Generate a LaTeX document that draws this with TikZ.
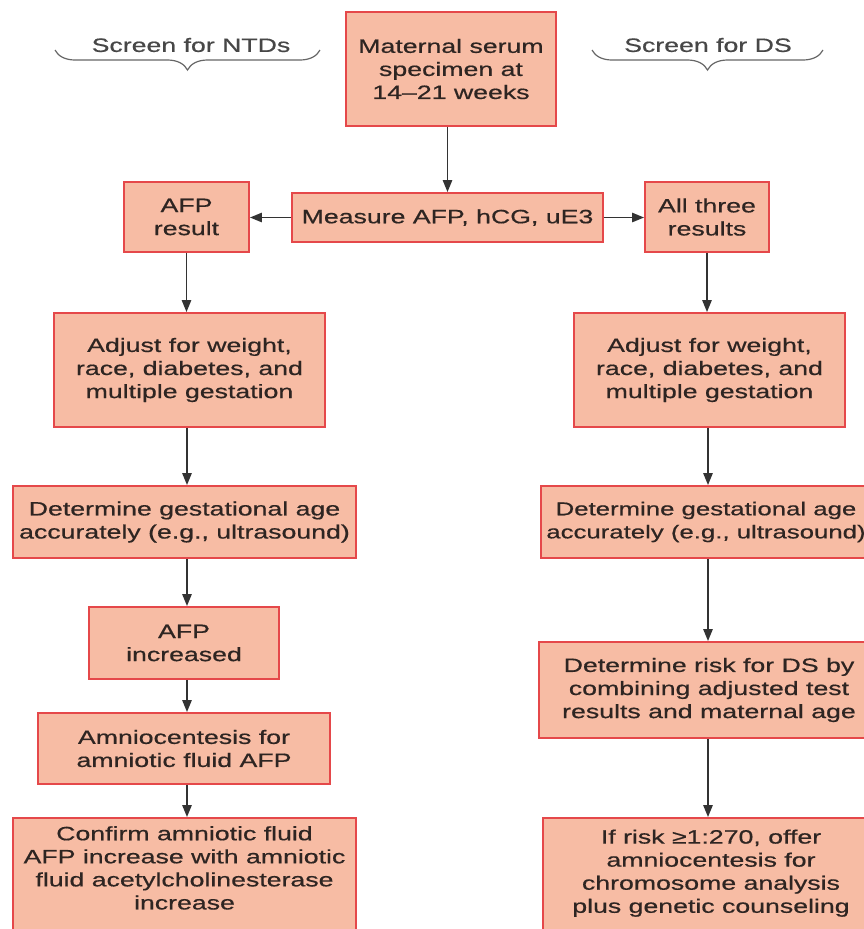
\documentclass[tikz,border=0pt]{standalone}
\usepackage{fontspec}
\setmainfont{Liberation Sans}[FakeStretch=1.38,FakeBold=0.6]
\usetikzlibrary{arrows.meta,decorations.pathreplacing}
\definecolor{salmon}{HTML}{F7BCA4}
\definecolor{boxred}{HTML}{E5484A}
\definecolor{ink}{HTML}{2E2522}
\definecolor{arrowgray}{HTML}{333333}
\tikzset{
  stepbox/.style={draw=boxred,fill=salmon,line width=1.4pt,align=center,inner sep=0pt,
    text=ink,font=\fontsize{14.5}{17.3}\selectfont},
  tag/.style={text=black!72,font=\fontsize{14.5}{17.3}\selectfont},
  flow/.style={-{Triangle[length=9pt,width=7pt]},draw=arrowgray,line width=1.3pt},
  brc/.style={decorate,decoration={brace,mirror,amplitude=15pt},draw=black!60,line width=0.9pt}
}

\begin{document}
\begin{tikzpicture}[x=0.75pt,y=-0.75pt]
\useasboundingbox (0,0) rectangle (864,929);
\clip (0,0) rectangle (864,929);
% the two screens
\node[tag] (ntd) at (191,45) {Screen for NTDs};
\node[tag] (ds) at (708,45) {Screen for DS};
\draw[brc] (55,50) -- (320,50);
\draw[brc] (592,50) -- (823,50);
\coordinate (colL) at (187,0);
\coordinate (colR) at (708,0);
% boxes
\node[stepbox,minimum width=157.5pt,minimum height=85.5pt] (top) at (451,69) {Maternal serum\\specimen at\\14--21 weeks};
\node[stepbox,minimum width=233.25pt,minimum height=36.75pt] (meas) at (447.5,217.5) {Measure AFP, hCG, uE3};
\node[stepbox,minimum width=93.75pt,minimum height=52.5pt] (afp) at (186.5,217) {AFP\\result};
\node[stepbox,minimum width=93pt,minimum height=52.5pt] (three) at (707,217) {All three\\results};
\node[stepbox,minimum width=203.25pt,minimum height=85.5pt] (adjl) at (189.5,370) {Adjust for weight,\\race, diabetes, and\\multiple gestation};
\node[stepbox,minimum width=203.25pt,minimum height=85.5pt] (adjr) at (709.5,370) {Adjust for weight,\\race, diabetes, and\\multiple gestation};
\node[stepbox,minimum width=257.25pt,minimum height=54pt] (detl) at (184.5,522) {Determine gestational age\\accurately (e.g., ultrasound)};
\node[stepbox,minimum width=247.5pt,minimum height=54pt,font=\fontsize{14}{17.3}\selectfont] (detr) at (706,522) {Determine gestational age\\accurately (e.g., ultrasound)};
\node[stepbox,minimum width=142.5pt,minimum height=54pt] (inc) at (184,643) {AFP\\increased};
\node[stepbox,minimum width=219pt,minimum height=53.25pt] (amn) at (184,748.5) {Amniocentesis for\\amniotic fluid AFP};
\node[stepbox,minimum width=257.25pt,minimum height=87.75pt,text depth=13pt] (conf) at (184.5,876.5) {Confirm amniotic fluid\\AFP increase with amniotic\\fluid acetylcholinesterase\\increase};
\node[stepbox,minimum width=255pt,minimum height=72pt] (risk) at (709,690) {Determine risk for DS by\\combining adjusted test\\results and maternal age};
\node[stepbox,minimum width=252pt,minimum height=87.75pt,text depth=8pt] (offer) at (711,876.5) {If risk \smash{\symbol{"2265}}1:270, offer\\amniocentesis for\\chromosome analysis\\plus genetic counseling};
% arrows
\draw[flow] (meas |- top.south) -- (meas.north);
\draw[flow] (meas.west) -- (meas.west -| afp.east);
\draw[flow] (meas.east) -- (meas.east -| three.west);
\draw[flow] (afp) -- (afp |- adjl.north);
\draw[flow] (three) -- (three |- adjr.north);
\draw[flow] (colL |- adjl.south) -- (colL |- detl.north);
\draw[flow] (colL |- detl.south) -- (colL |- inc.north);
\draw[flow] (colL |- inc.south) -- (colL |- amn.north);
\draw[flow] (colL |- amn.south) -- (colL |- conf.north);
\draw[flow] (colR |- adjr.south) -- (colR |- detr.north);
\draw[flow] (colR |- detr.south) -- (colR |- risk.north);
\draw[flow] (colR |- risk.south) -- (colR |- offer.north);
\end{tikzpicture}
\end{document}
